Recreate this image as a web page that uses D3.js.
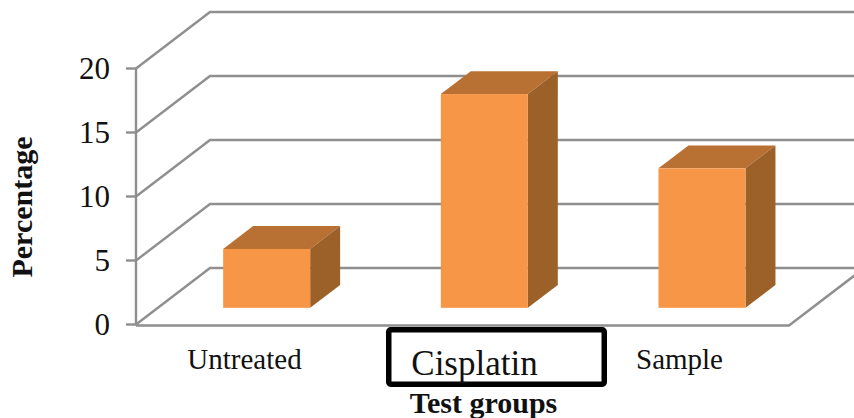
<!DOCTYPE html>
<html><head><meta charset="utf-8">
<script src="https://cdn.jsdelivr.net/npm/d3@7/dist/d3.min.js"></script>
<style>html,body{margin:0;padding:0;background:#fff}svg{display:block}text{font-family:"Liberation Serif",serif;fill:#111}</style>
</head><body><svg id="c" width="854" height="418"></svg>
<script>
const categories = ["Untreated","Cisplatin","Sample"];
const values = [4.6,16.7,10.9];
const yTicks = [0,5,10,15,20];
const xTitle = "Test groups";
const yTitle = "Percentage";

const svg = d3.select("#c");
const y = d3.scaleLinear().domain([0,20]).range([324.5,68.5]);
const x = d3.scaleBand().domain(categories).range([136,789]).paddingInner(0).paddingOuter(0);
// depth projection: 0 = front of floor, 1 = back wall
const dx = d3.scaleLinear().domain([0,1]).range([0,74]);
const dy = d3.scaleLinear().domain([0,1]).range([0,-56.5]);
const barW = 87, zFront = 0.295, zBack = 0.70;
const grid = "#8f8f8f", line = d3.line();

const g = svg.append("g").attr("fill","none").attr("stroke",grid).attr("stroke-width",2.4);
yTicks.forEach(t=>{
  const p0=[136,y(t)], p1=[136+dx(1),y(t)+dy(1)];
  g.append("path").attr("d",line([p0,p1,[854,p1[1]]]));
  g.append("path").attr("d",line([[126,y(t)],p0]));
});
g.append("path").attr("d",line([[136,y(20)],[136,y(0)+1]]));
g.append("path").attr("d",line([[136,y(0)+1],[789,y(0)+1],[789+dx(1),y(0)+1+dy(1)]]));

const bars = svg.append("g").selectAll("g").data(categories).join("g");
const px=(c)=>x(c)+x.bandwidth()/2-barW/2+dx(zFront);
const base=y(0)+dy(zFront);
const ddx=dx(zBack)-dx(zFront), ddy=dy(zBack)-dy(zFront);
bars.each(function(c,i){
  const s=d3.select(this), l=px(c), r=l+barW, h=y(0)-y(values[i]), t=base-h;
  s.append("path").attr("fill","#b87033").attr("d",line([[l,t],[r,t],[r+ddx,t+ddy],[l+ddx,t+ddy]])+"Z");
  s.append("path").attr("fill","#9c6029").attr("d",line([[r,t],[r+ddx,t+ddy],[r+ddx,base+ddy],[r,base]])+"Z");
  s.append("rect").attr("x",l).attr("y",t).attr("width",barW).attr("height",h).attr("fill","#f79646");
});

svg.append("g").selectAll("text").data(yTicks).join("text")
  .attr("x",110).attr("y",d=>y(d)+10).attr("text-anchor","end").attr("font-size",31).text(d=>d);

svg.append("rect").attr("x",388.75).attr("y",329.75).attr("width",215.5).attr("height",54.5).attr("rx",2)
  .attr("fill","#fff").attr("stroke","#000").attr("stroke-width",5.5);

const labelSpec = [{x:244.5,y:369,s:29},{x:474.5,y:375,s:35},{x:679.5,y:369,s:29}];
svg.append("g").selectAll("text").data(categories).join("text")
  .attr("x",(d,i)=>labelSpec[i].x).attr("y",(d,i)=>labelSpec[i].y)
  .attr("text-anchor","middle").attr("font-size",(d,i)=>labelSpec[i].s).text(d=>d);

svg.append("text").attr("x",483.5).attr("y",413).attr("text-anchor","middle")
  .attr("font-size",30).attr("font-weight","bold").text(xTitle);
svg.append("text").attr("transform","translate(32,207) rotate(-90)").attr("text-anchor","middle")
  .attr("font-size",30).attr("font-weight","bold").text(yTitle);
</script></body></html>
